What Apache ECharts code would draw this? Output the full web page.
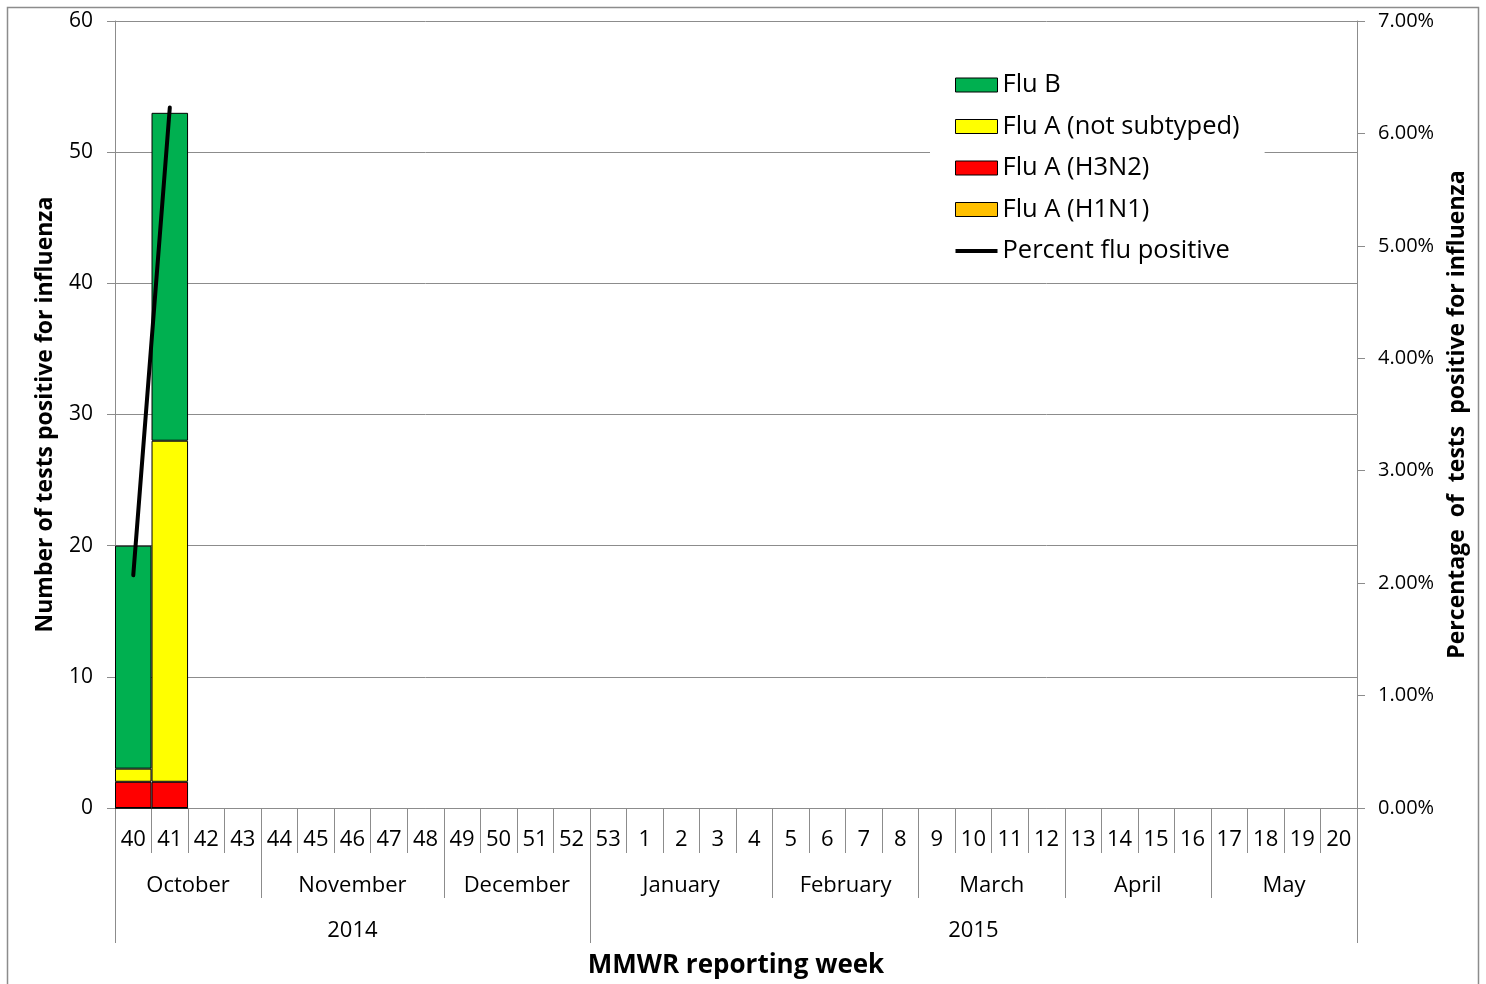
<!DOCTYPE html>
<html>
<head>
<meta charset="utf-8">
<script src="https://cdn.jsdelivr.net/npm/echarts@6/dist/echarts.min.js"></script>
<style>
html,body{margin:0;padding:0;background:#fff;}
#chart{width:1486px;height:984px;}
</style>
</head>
<body>
<div id="chart"></div>
<script>
// ---- data ----
const weeks = ['40','41','42','43','44','45','46','47','48','49','50','51','52','53','1','2','3','4','5','6','7','8','9','10','11','12','13','14','15','16','17','18','19','20'];
const months = ['October','November','December','January','February','March','April','May'];
const monthWeekCounts = [4,5,4,5,4,4,4,4];
const years = ['2014','2015'];
const yearWeekCounts = [13,21];
const fluB =        [17,25,null,null,null,null,null,null,null,null,null,null,null,null,null,null,null,null,null,null,null,null,null,null,null,null,null,null,null,null,null,null,null,null];
const fluANotSub =  [1,26,null,null,null,null,null,null,null,null,null,null,null,null,null,null,null,null,null,null,null,null,null,null,null,null,null,null,null,null,null,null,null,null];
const fluAH3N2 =    [2,2,null,null,null,null,null,null,null,null,null,null,null,null,null,null,null,null,null,null,null,null,null,null,null,null,null,null,null,null,null,null,null,null];
const fluAH1N1 =    [0,0,null,null,null,null,null,null,null,null,null,null,null,null,null,null,null,null,null,null,null,null,null,null,null,null,null,null,null,null,null,null,null,null];
const pctPositive = [2.07,6.23,null,null,null,null,null,null,null,null,null,null,null,null,null,null,null,null,null,null,null,null,null,null,null,null,null,null,null,null,null,null,null,null];
const leftTicks = [0,10,20,30,40,50,60];
const rightTicks = [0,1,2,3,4,5,6,7];

// ---- derived group boundaries / centers (in week units) ----
function groups(counts){
  const bounds=[0], centers=[];
  let acc=0;
  counts.forEach(c=>{centers.push(acc+c/2); acc+=c; bounds.push(acc);});
  return {bounds, centers};
}
const mg = groups(monthWeekCounts);
const yg = groups(yearWeekCounts);

const FONT = "'Open Sans', 'Noto Sans', sans-serif";
const GRID = '#8c8c8c';
const LINE_ICON = 'path://M0,0 M42,14 M0,5 L42,5 L42,9 L0,9 Z';

const chart = echarts.init(document.getElementById('chart'), null, {renderer:'canvas'});
const barBase = {type:'bar', stack:'s', xAxisIndex:0, yAxisIndex:0, barCategoryGap:'0%', barGap:'0%'};
const option = {
  animation:false,
  backgroundColor:'#fff',
  textStyle:{fontFamily:FONT},
  grid:{left:115, right:129, top:21, bottom:176, containLabel:false},
  legend:{
    orient:'vertical', left:930, top:61,
    backgroundColor:'#fff',
    padding:[10,25,10,25],
    itemWidth:42, itemHeight:14, itemGap:13.5,
    itemStyle:{borderColor:'#000', borderWidth:1},
    textStyle:{fontFamily:FONT, fontSize:25.5, color:'#000', lineHeight:28},
    data:[
      {name:'Flu B', icon:'rect'},
      {name:'Flu A (not subtyped)', icon:'rect'},
      {name:'Flu A (H3N2)', icon:'rect'},
      {name:'Flu A (H1N1)', icon:'rect'},
      {name:'Percent flu positive', icon:LINE_ICON, itemStyle:{color:'#000', borderWidth:0}}
    ]
  },
  xAxis:[
    {
      type:'category', data:weeks, position:'bottom', gridIndex:0,
      boundaryGap:true,
      axisLine:{show:true, onZero:false, lineStyle:{color:GRID, width:1}},
      axisTick:{show:true, interval:0, length:45, lineStyle:{color:GRID}},
      axisLabel:{interval:0, margin:21, fontSize:22, color:'#000', fontFamily:FONT},
      splitLine:{show:false},
      name:'MMWR reporting week', nameLocation:'middle', nameGap:145,
      nameTextStyle:{fontFamily:FONT, fontSize:26, fontWeight:'bold', color:'#000'}
    },
    {
      type:'value', min:0, max:weeks.length, position:'bottom', gridIndex:0,
      axisLine:{show:false, onZero:false},
      axisTick:{show:true, customValues:mg.bounds, length:90, lineStyle:{color:GRID}},
      axisLabel:{show:true, customValues:mg.centers, margin:67, fontSize:22, color:'#000', fontFamily:FONT,
        formatter:function(v){ const i=mg.centers.indexOf(v); return i>=0?months[i]:''; }},
      splitLine:{show:false}
    },
    {
      type:'value', min:0, max:weeks.length, position:'bottom', gridIndex:0,
      axisLine:{show:false, onZero:false},
      axisTick:{show:true, customValues:yg.bounds, length:135, lineStyle:{color:GRID}},
      axisLabel:{show:true, customValues:yg.centers, margin:112, fontSize:22, color:'#000', fontFamily:FONT,
        formatter:function(v){ const i=yg.centers.indexOf(v); return i>=0?years[i]:''; }},
      splitLine:{show:false}
    }
  ],
  yAxis:[
    {
      type:'value', position:'left', min:leftTicks[0], max:leftTicks[leftTicks.length-1], interval:10,
      axisLine:{show:true, onZero:false, lineStyle:{color:GRID}},
      axisTick:{show:true, length:8, lineStyle:{color:GRID}},
      axisLabel:{margin:22, fontSize:21, color:'#000', fontFamily:FONT},
      splitLine:{show:true, lineStyle:{color:GRID, width:1}},
      name:'Number of tests positive for influenza', nameLocation:'middle', nameGap:58, nameRotate:90,
      nameTextStyle:{fontFamily:FONT, fontSize:23, fontWeight:'bold', color:'#000'}
    },
    {
      type:'value', position:'right', min:rightTicks[0], max:rightTicks[rightTicks.length-1], interval:1,
      axisLine:{show:true, onZero:false, lineStyle:{color:GRID}},
      axisTick:{show:true, length:8, lineStyle:{color:GRID}},
      axisLabel:{margin:21, fontSize:20, color:'#000', fontFamily:FONT, formatter:function(v){return v.toFixed(2)+'%';}},
      splitLine:{show:false},
      name:'Percentage  of  tests  positive for influenza', nameLocation:'middle', nameGap:89, nameRotate:90,
      nameTextStyle:{fontFamily:FONT, fontSize:23, fontWeight:'bold', color:'#000'}
    }
  ],
  series:[
    Object.assign({}, barBase, {name:'Flu A (H1N1)', data:fluAH1N1, itemStyle:{color:'#FFC000', borderColor:'#000', borderWidth:1}}),
    Object.assign({}, barBase, {name:'Flu A (H3N2)', data:fluAH3N2, itemStyle:{color:'#FF0000', borderColor:'#000', borderWidth:1}}),
    Object.assign({}, barBase, {name:'Flu A (not subtyped)', data:fluANotSub, itemStyle:{color:'#FFFF00', borderColor:'#000', borderWidth:1}}),
    Object.assign({}, barBase, {name:'Flu B', data:fluB, itemStyle:{color:'#00B050', borderColor:'#000', borderWidth:1}}),
    {
      name:'Percent flu positive', type:'line', xAxisIndex:0, yAxisIndex:1, data:pctPositive,
      symbol:'none', showSymbol:false, connectNulls:false, z:5,
      lineStyle:{color:'#000', width:4, cap:'round'}, itemStyle:{color:'#000'}
    }
  ],
  graphic:[
    {type:'rect', silent:true, z:-10, shape:{x:7.5, y:7.5, width:1471, height:1000}, style:{fill:'none', stroke:'#8c8c8c', lineWidth:1.5}}
  ]
};
chart.setOption(option);
</script>
</body>
</html>
